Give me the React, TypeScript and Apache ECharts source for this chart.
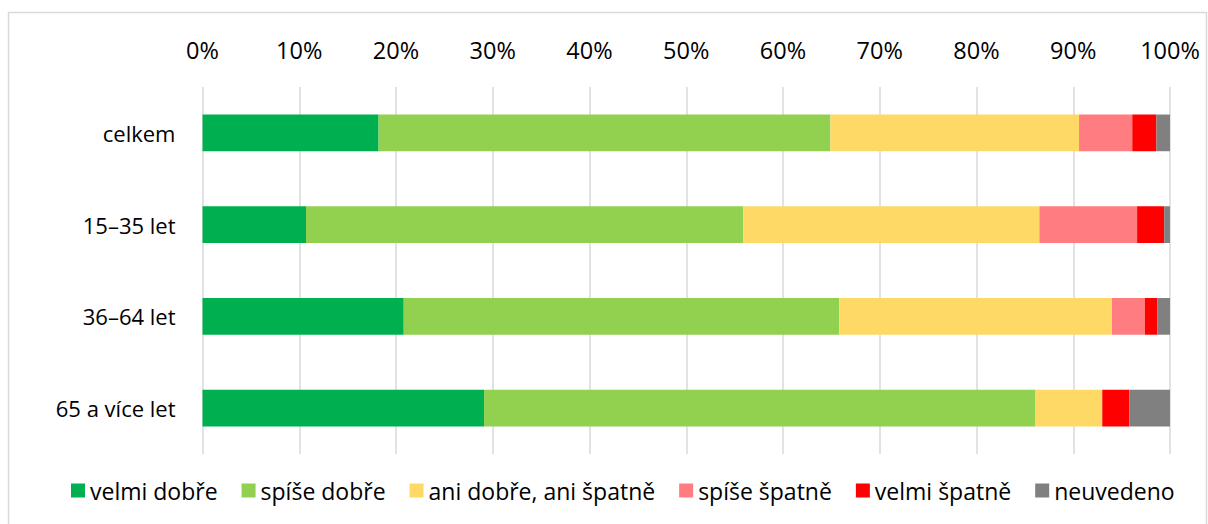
import React, { useEffect, useRef } from "react";
import * as echarts from "echarts";

const categories = ["celkem", "15–35 let", "36–64 let", "65 a více let"];
const seriesNames = ["velmi dobře", "spíše dobře", "ani dobře, ani špatně", "spíše špatně", "velmi špatně", "neuvedeno"];
const velmiDobre = [18.2, 10.7, 20.8, 29.1];
const spiseDobre = [46.7, 45.2, 45.0, 57.0];
const aniAni = [25.7, 30.6, 28.2, 6.9];
const spiseSpatne = [5.5, 10.1, 3.4, 0];
const velmiSpatne = [2.5, 2.8, 1.3, 2.8];
const neuvedeno = [1.4, 0.6, 1.3, 4.2];
const colors = ["#00B050", "#92D050", "#FFD966", "#FF7C80", "#FF0000", "#808080"];

const FONT = "'Open Sans', 'Noto Sans', sans-serif";

export default function App() {
  const ref = useRef<HTMLDivElement>(null);
  useEffect(() => {
    if (!ref.current) return;
    const chart = echarts.init(ref.current, undefined, { renderer: "svg" });
    const dataSets = [velmiDobre, spiseDobre, aniAni, spiseSpatne, velmiSpatne, neuvedeno];
    chart.setOption({
      animation: false,
      backgroundColor: "#ffffff",
      graphic: [
        {
          type: "rect",
          shape: { x: 8.5, y: 12.5, width: 1198, height: 530 },
          style: { fill: "none", stroke: "#d9d9d9", lineWidth: 1.5 },
          silent: true,
        },
      ],
      grid: { left: 202.5, right: 38, top: 87, bottom: 70, containLabel: false },
      xAxis: {
        type: "value",
        position: "top",
        min: 0,
        max: 100,
        interval: 10,
        axisLine: { show: false },
        axisTick: { show: false },
        axisLabel: {
          formatter: "{value}%",
          fontSize: 23.5,
          fontFamily: FONT,
          color: "#000",
          margin: 25,
        },
        splitLine: { show: true, lineStyle: { color: "#d9d9d9", width: 1.5 } },
      },
      yAxis: {
        type: "category",
        inverse: true,
        data: categories,
        axisLine: { show: false },
        axisTick: { show: false },
        axisLabel: { fontSize: 22, fontFamily: FONT, color: "#000", margin: 27 },
      },
      legend: {
        bottom: 17,
        left: 66,
        icon: "rect",
        itemWidth: 14,
        itemHeight: 14,
        itemGap: 24,
        textStyle: { fontSize: 23, fontFamily: FONT, color: "#000" },
        data: seriesNames,
      },
      series: seriesNames.map((name, i) => ({
        name,
        type: "bar",
        stack: "total",
        barWidth: "40%",
        data: dataSets[i],
        itemStyle: { color: colors[i] },
      })),
    });
    return () => chart.dispose();
  }, []);
  return (
    <div
      ref={ref}
      style={{ position: "absolute", left: 0, top: 0, width: 1208, height: 524 }}
    />
  );
}
